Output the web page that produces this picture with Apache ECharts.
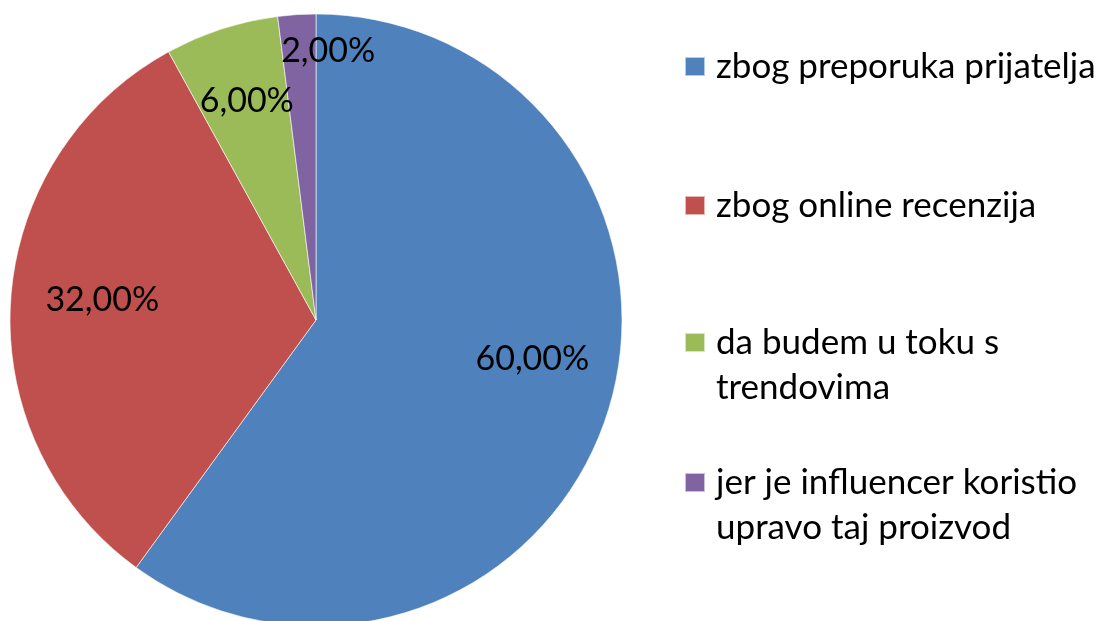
<!DOCTYPE html>
<html>
<head>
<meta charset="utf-8">
<script src="https://cdn.jsdelivr.net/npm/echarts@6/dist/echarts.min.js"></script>
<style>
  html, body { margin: 0; padding: 0; background: #fff; }
  #chart { width: 1104px; height: 621px; }
</style>
</head>
<body>
<div id="chart"></div>
<script>
const categories = [
    'zbog preporuka prijatelja',
    'zbog online recenzija',
    'da budem u toku s trendovima',
    'jer je influencer koristio upravo taj proizvod'
];
// legend text as it wraps in the picture
const legendLines = [
    'zbog preporuka prijatelja',
    'zbog online recenzija',
    'da budem u toku s\ntrendovima',
    'jer je influencer koristio\nupravo taj proizvod'
];
const shares = [60, 32, 6, 2];
const colors = ['#4F81BD', '#C0504D', '#9BBB59', '#8064A2'];

// nudges for the value labels (Excel places them further out than echarts)
const labelOffsets = [[68, -9], [-58, -10], [-21, -71], [22, -113]];
const legendTops = [44, 183, 275, 415];

const font = 'Lato';

const pieData = categories.map((name, i) => ({
    name: name,
    value: shares[i],
    itemStyle: { color: colors[i] },
    label: { offset: labelOffsets[i] }
}));

const legends = categories.map((name, i) => {
    // multi-line entries: blank first line so the square sits on the first text line
    const multi = legendLines[i].indexOf('\n') >= 0;
    return {
        orient: 'vertical',
        left: 684,
        top: legendTops[i],
        padding: 0,
        itemWidth: 20,
        itemHeight: 19,
        icon: 'rect',
        selectedMode: false,
        data: [name],
        formatter: () => (multi ? '\n' : '') + legendLines[i],
        textStyle: {
            fontFamily: font,
            fontSize: 35,
            color: '#000',
            lineHeight: 45,
            padding: [0, 0, 0, 6]
        }
    };
});

const chart = echarts.init(document.getElementById('chart'));
chart.setOption({
    animation: false,
    legend: legends,
    series: [
        {
            type: 'pie',
            center: [316, 320],
            radius: 306,
            startAngle: 90,
            clockwise: true,
            data: pieData,
            itemStyle: {
                borderColor: 'rgba(255,255,255,0.6)',
                borderWidth: 1
            },
            label: {
                position: 'inside',
                fontFamily: font,
                fontSize: 34,
                color: '#000',
                formatter: p => p.value.toFixed(2).replace('.', ',') + '%'
            },
            labelLine: { show: false },
            emphasis: { disabled: true }
        }
    ]
});
</script>
</body>
</html>
